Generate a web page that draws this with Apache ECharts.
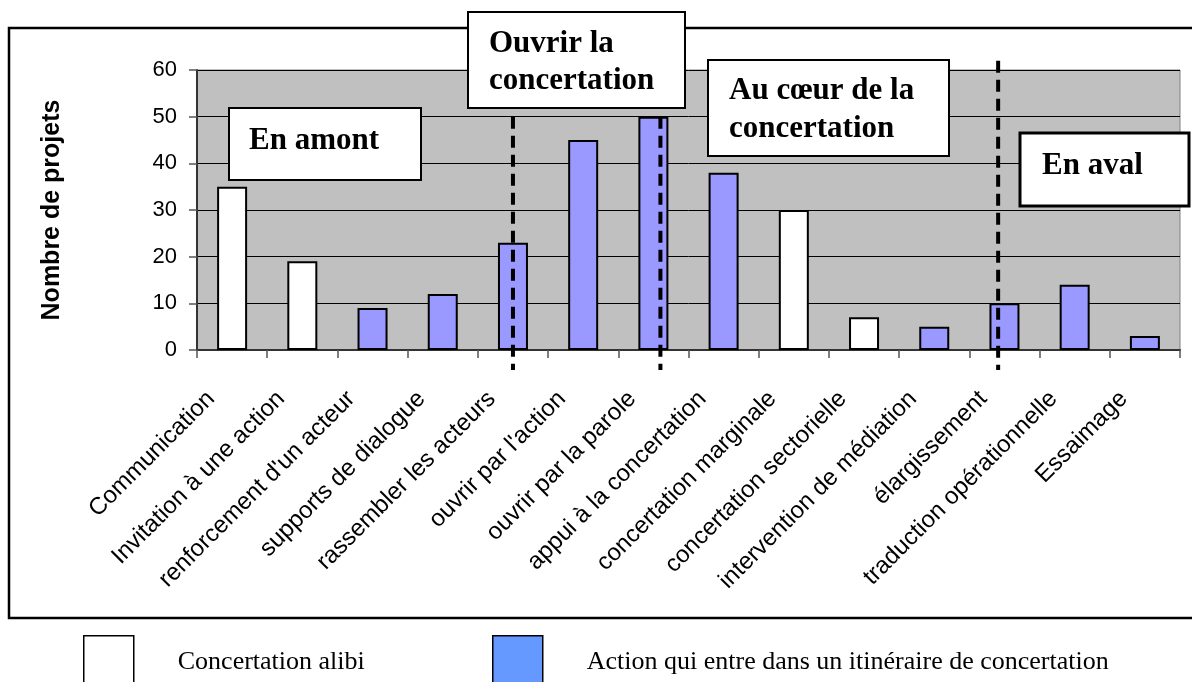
<!DOCTYPE html>
<html>
<head>
<meta charset="utf-8">
<title>Nombre de projets</title>
<script src="https://cdn.jsdelivr.net/npm/echarts@6/dist/echarts.min.js"></script>
<style>
  html, body { margin: 0; padding: 0; background: #fff; }
  #chart { width: 1192px; height: 682px; }
</style>
</head>
<body>
<div id="chart"></div>
<script>
// catégories et valeurs
var categories = ['Communication', 'Invitation à une action', "renforcement d'un acteur",
  'supports de dialogue', 'rassembler les acteurs', "ouvrir par l'action",
  'ouvrir par la parole', 'appui à la concertation', 'concertation marginale',
  'concertation sectorielle', 'intervention de médiation', 'élargissement',
  'traduction opérationnelle', 'Essaimage'];
var values = [35, 19, 9, 12, 23, 45, 50, 38, 30, 7, 5, 10, 14, 3];
// A = concertation alibi, B = itinéraire de concertation
var kinds = ['A', 'A', 'B', 'B', 'B', 'B', 'B', 'B', 'A', 'A', 'B', 'B', 'B', 'B'];
var seriesNames = ['Concertation alibi', 'Action qui entre dans un itinéraire de concertation'];
var yTicks = [0, 10, 20, 30, 40, 50, 60];

// lignes pointillées : position en catégorie, haut et bas en valeur
var dividerCat = [4, 6.1, 10.91];
var dividerTop = [50, 50, 62];
var dividerBottom = [-4.3, -4.3, -4.3];

var alibi = values.map(function (v, i) { return kinds[i] === 'A' ? v : '-'; });
var itin = values.map(function (v, i) { return kinds[i] === 'B' ? v : '-'; });

var myChart = echarts.init(document.getElementById('chart'));

var legendText = { fontFamily: '"Liberation Serif", "Times New Roman", serif', fontSize: 26, color: '#000' };

var option = {
  animation: false,
  grid: {
    left: 197, top: 70, right: 12, bottom: 332,
    show: true, backgroundColor: '#C0C0C0', borderColor: '#808080', borderWidth: 1
  },
  legend: [
    {
      left: 83, top: 635, itemWidth: 50, itemHeight: 52,
      icon: 'rect', textStyle: legendText, padding: 0,
      data: [{ name: seriesNames[0], itemStyle: { color: '#fff', borderColor: '#000', borderWidth: 1.5 },
        textStyle: { padding: [0, 0, 0, 39] } }]
    },
    {
      left: 492, top: 635, itemWidth: 50, itemHeight: 52,
      icon: 'rect', textStyle: legendText, padding: 0,
      data: [{ name: seriesNames[1], itemStyle: { color: '#6699FF', borderColor: '#000', borderWidth: 1.5 },
        textStyle: { padding: [0, 0, 0, 39] } }]
    }
  ],
  xAxis: {
    type: 'category',
    data: categories,
    axisLine: { lineStyle: { color: '#333', width: 2 } },
    axisTick: { show: true, length: 8, lineStyle: { color: '#555', width: 1.5 } },
    axisLabel: {
      rotate: 45, interval: 0, margin: 24, padding: [0, 30, 0, 0],
      fontFamily: '"Liberation Sans", Arial, sans-serif', fontSize: 24, color: '#000'
    }
  },
  yAxis: {
    type: 'value',
    min: yTicks[0], max: yTicks[yTicks.length - 1], interval: 10,
    name: 'Nombre de projets',
    nameLocation: 'middle',
    nameGap: 132,
    nameTextStyle: { fontFamily: '"Liberation Sans", Arial, sans-serif', fontSize: 25, fontWeight: 'bold', color: '#000' },
    axisLine: { show: true, lineStyle: { color: '#333', width: 2 } },
    axisTick: { show: true, length: 8, lineStyle: { color: '#555', width: 1.5 } },
    axisLabel: { margin: 20, fontFamily: '"Liberation Sans", Arial, sans-serif', fontSize: 22, color: '#000' },
    splitLine: { show: true, lineStyle: { color: '#000', width: 1 } }
  },
  series: [
    {
      name: seriesNames[0], type: 'bar', data: alibi,
      barWidth: 30, barGap: '-100%',
      itemStyle: { color: '#FFFFFF', borderColor: '#000', borderWidth: 2 }
    },
    {
      name: seriesNames[1], type: 'bar', data: itin,
      barWidth: 30, barGap: '-100%',
      itemStyle: { color: '#9999FF', borderColor: '#000', borderWidth: 2 }
    }
  ]
};
myChart.setOption(option);

// cadre, encadrés de texte et lignes pointillées
var boxFont = 'bold 31px "Liberation Serif", "Times New Roman", serif';
function box(x, y, w, h, lines, tx, ty, lw) {
  var els = [{
    type: 'rect', z: 20,
    shape: { x: x, y: y, width: w, height: h },
    style: { fill: '#fff', stroke: '#000', lineWidth: lw || 2 }
  }];
  lines.forEach(function (t, i) {
    els.push({
      type: 'text', z: 21, x: tx, y: ty[i],
      style: { text: t, font: boxFont, fill: '#000', verticalAlign: 'middle', align: 'left' }
    });
  });
  return els;
}

var graphics = [{
  type: 'rect', z: -10, silent: true,
  shape: { x: 9, y: 28, width: 1200, height: 590 },
  style: { fill: 'none', stroke: '#000', lineWidth: 2.5 }
}];
graphics = graphics
  .concat(box(229, 108, 192, 72, ['En amont'], 249, [141]))
  .concat(box(468, 12, 217, 96, ['Ouvrir la', 'concertation'], 489, [44, 81]))
  .concat(box(708, 60, 241, 96, ['Au cœur de la', 'concertation'], 729, [91, 129]))
  .concat(box(1020, 133, 169, 73, ['En aval'], 1042, [166], 3));

var band = myChart.convertToPixel({ xAxisIndex: 0 }, 1) - myChart.convertToPixel({ xAxisIndex: 0 }, 0);
dividerCat.forEach(function (c, i) {
  var base = Math.floor(c);
  var x = myChart.convertToPixel({ xAxisIndex: 0 }, base) + (c - base) * band;
  var y1 = myChart.convertToPixel({ yAxisIndex: 0 }, dividerTop[i]);
  var y2 = myChart.convertToPixel({ yAxisIndex: 0 }, dividerBottom[i]);
  graphics.push({
    type: 'line', z: 15, silent: true,
    shape: { x1: x, y1: y1, x2: x, y2: y2 },
    style: { stroke: '#000', lineWidth: 4, lineDash: [12, 7] }
  });
});

myChart.setOption({ graphic: graphics });
</script>
</body>
</html>
